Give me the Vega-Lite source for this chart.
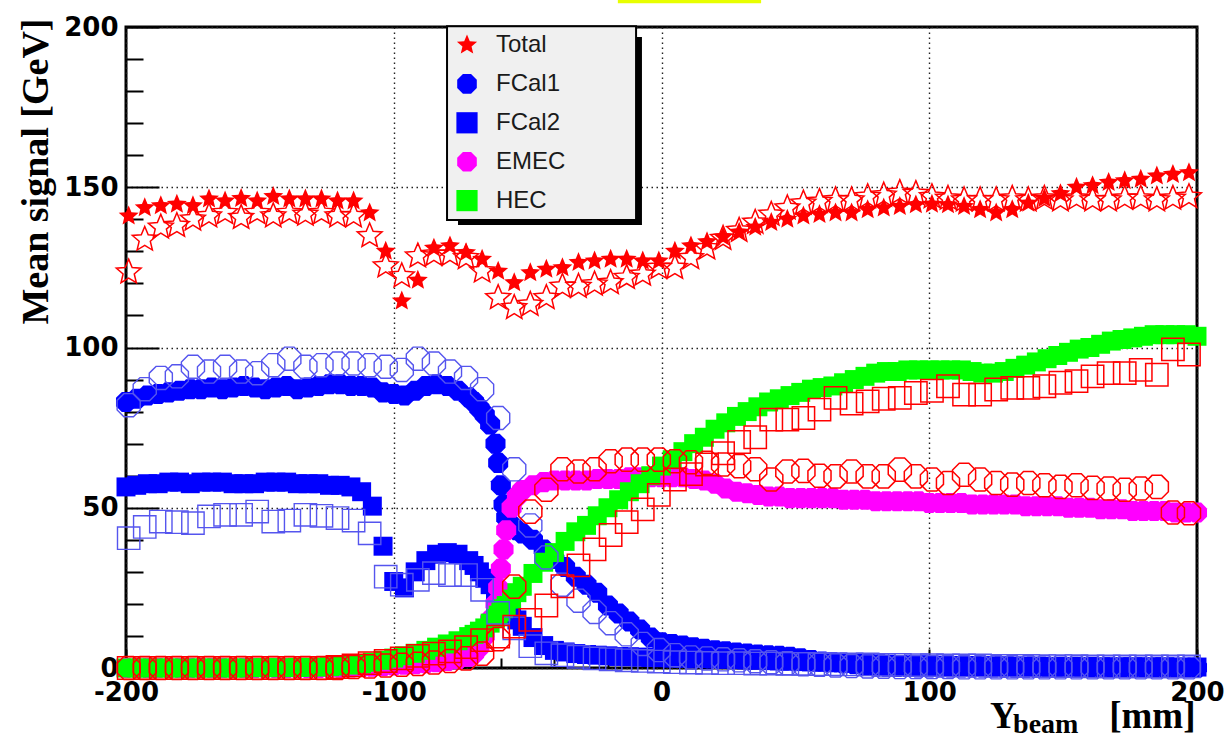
{
"$schema": "https://vega.github.io/schema/vega-lite/v6.json",
"width": 1071, "height": 641,
"autosize": {"type": "none"},
"padding": {"left": 126, "top": 27, "right": 30, "bottom": 69},
"background": "white",
"datasets": {
"filled": [
{"x":-200,"FCal1":83,"FCal2":56.5,"EMEC":0,"HEC":0},
{"x":-196,"FCal1":84,"FCal2":57,"EMEC":0,"HEC":0},
{"x":-192,"FCal1":85,"FCal2":57.5,"EMEC":0,"HEC":0},
{"x":-188,"FCal1":85.5,"FCal2":57.5,"EMEC":0,"HEC":0},
{"x":-184,"FCal1":86,"FCal2":58,"EMEC":0,"HEC":0},
{"x":-180,"FCal1":86.5,"FCal2":58,"EMEC":0,"HEC":0},
{"x":-176,"FCal1":87,"FCal2":57.5,"EMEC":0,"HEC":0},
{"x":-172,"FCal1":87,"FCal2":58,"EMEC":0,"HEC":0},
{"x":-168,"FCal1":87.5,"FCal2":58,"EMEC":0,"HEC":0},
{"x":-164,"FCal1":87,"FCal2":58,"EMEC":0,"HEC":0},
{"x":-160,"FCal1":87.5,"FCal2":57.5,"EMEC":0,"HEC":0},
{"x":-156,"FCal1":88,"FCal2":57.5,"EMEC":0,"HEC":0},
{"x":-152,"FCal1":87.5,"FCal2":57.5,"EMEC":0,"HEC":0.1},
{"x":-148,"FCal1":87,"FCal2":58,"EMEC":0,"HEC":0.1},
{"x":-144,"FCal1":87.5,"FCal2":58,"EMEC":0,"HEC":0.1},
{"x":-140,"FCal1":88,"FCal2":58,"EMEC":0,"HEC":0.1},
{"x":-136,"FCal1":87,"FCal2":57.5,"EMEC":0,"HEC":0.2},
{"x":-132,"FCal1":87.5,"FCal2":57.5,"EMEC":0,"HEC":0.2},
{"x":-128,"FCal1":88,"FCal2":57.5,"EMEC":0,"HEC":0.3},
{"x":-124,"FCal1":88.5,"FCal2":57,"EMEC":0.1,"HEC":0.4},
{"x":-120,"FCal1":88.5,"FCal2":57,"EMEC":0.1,"HEC":0.6},
{"x":-116,"FCal1":88,"FCal2":56.5,"EMEC":0.2,"HEC":0.9},
{"x":-112,"FCal1":88,"FCal2":55,"EMEC":0.3,"HEC":1.3},
{"x":-108,"FCal1":87.5,"FCal2":50.5,"EMEC":0.4,"HEC":1.8},
{"x":-104,"FCal1":86,"FCal2":38,"EMEC":0.6,"HEC":2.4},
{"x":-100,"FCal1":85.5,"FCal2":27,"EMEC":0.8,"HEC":3.1},
{"x":-96,"FCal1":85,"FCal2":25,"EMEC":1,"HEC":3.8},
{"x":-92,"FCal1":86.5,"FCal2":30,"EMEC":1.2,"HEC":4.6},
{"x":-88,"FCal1":88,"FCal2":33.5,"EMEC":1.5,"HEC":5.5},
{"x":-84,"FCal1":88.5,"FCal2":35.5,"EMEC":1.8,"HEC":6.5},
{"x":-80,"FCal1":88,"FCal2":36,"EMEC":2.2,"HEC":7.5},
{"x":-76,"FCal1":86.5,"FCal2":35.5,"EMEC":2.7,"HEC":8.5},
{"x":-72,"FCal1":84.5,"FCal2":33.5,"EMEC":3.5,"HEC":9.8},
{"x":-70,"FCal1":83,"FCal2":32,"EMEC":4.5,"HEC":10.5},
{"x":-68,"FCal1":81,"FCal2":30,"EMEC":6.5,"HEC":11.5},
{"x":-66,"FCal1":79,"FCal2":28,"EMEC":10,"HEC":12.5},
{"x":-64,"FCal1":76,"FCal2":26,"EMEC":15,"HEC":14},
{"x":-62,"FCal1":70,"FCal2":23.5,"EMEC":20,"HEC":15.5},
{"x":-61,"FCal1":64,"FCal2":22.5,"EMEC":25,"HEC":16.5},
{"x":-60,"FCal1":57,"FCal2":21,"EMEC":31,"HEC":17.5},
{"x":-59,"FCal1":51,"FCal2":20,"EMEC":37,"HEC":18.5},
{"x":-58,"FCal1":47,"FCal2":19,"EMEC":43,"HEC":19.5},
{"x":-56,"FCal1":44.5,"FCal2":17,"EMEC":50,"HEC":21.5},
{"x":-54,"FCal1":43,"FCal2":15,"EMEC":53.5,"HEC":23.5},
{"x":-52,"FCal1":42,"FCal2":13,"EMEC":55.5,"HEC":25.5},
{"x":-48,"FCal1":40,"FCal2":9.5,"EMEC":57,"HEC":29.5},
{"x":-44,"FCal1":37,"FCal2":7,"EMEC":58,"HEC":33},
{"x":-40,"FCal1":34,"FCal2":5.5,"EMEC":58.5,"HEC":36},
{"x":-36,"FCal1":31.5,"FCal2":5,"EMEC":58.5,"HEC":39.5},
{"x":-32,"FCal1":28.5,"FCal2":4.5,"EMEC":58.5,"HEC":42.5},
{"x":-28,"FCal1":26,"FCal2":4.2,"EMEC":58.5,"HEC":44.5},
{"x":-24,"FCal1":23.5,"FCal2":4,"EMEC":59,"HEC":47.5},
{"x":-20,"FCal1":19.5,"FCal2":3.8,"EMEC":59,"HEC":50},
{"x":-16,"FCal1":17,"FCal2":3.6,"EMEC":59,"HEC":52.5},
{"x":-12,"FCal1":14.5,"FCal2":3.5,"EMEC":59.5,"HEC":55},
{"x":-8,"FCal1":12,"FCal2":3.4,"EMEC":59.5,"HEC":57.5},
{"x":-4,"FCal1":9.5,"FCal2":3.3,"EMEC":59.5,"HEC":60},
{"x":0,"FCal1":8,"FCal2":3.2,"EMEC":59.5,"HEC":63},
{"x":4,"FCal1":7.5,"FCal2":3.1,"EMEC":59.5,"HEC":65},
{"x":8,"FCal1":7,"FCal2":3,"EMEC":59.5,"HEC":67.5},
{"x":12,"FCal1":6.5,"FCal2":3,"EMEC":59,"HEC":70},
{"x":16,"FCal1":6,"FCal2":2.9,"EMEC":58.5,"HEC":72},
{"x":20,"FCal1":5.5,"FCal2":2.8,"EMEC":57.5,"HEC":74.5},
{"x":24,"FCal1":5.2,"FCal2":2.7,"EMEC":56,"HEC":76.5},
{"x":28,"FCal1":4.8,"FCal2":2.6,"EMEC":55,"HEC":78.5},
{"x":32,"FCal1":4.5,"FCal2":2.5,"EMEC":54.5,"HEC":80},
{"x":36,"FCal1":4.2,"FCal2":2.4,"EMEC":54,"HEC":81.5},
{"x":40,"FCal1":4,"FCal2":2.3,"EMEC":53.5,"HEC":83},
{"x":44,"FCal1":3.8,"FCal2":2.2,"EMEC":53.5,"HEC":84},
{"x":48,"FCal1":3.5,"FCal2":2.1,"EMEC":53,"HEC":85},
{"x":52,"FCal1":3,"FCal2":2,"EMEC":53,"HEC":86},
{"x":56,"FCal1":2.5,"FCal2":1.9,"EMEC":53,"HEC":87},
{"x":60,"FCal1":2,"FCal2":1.8,"EMEC":53,"HEC":87.5},
{"x":64,"FCal1":1.8,"FCal2":1.7,"EMEC":53,"HEC":88},
{"x":68,"FCal1":1.5,"FCal2":1.6,"EMEC":52.5,"HEC":89},
{"x":72,"FCal1":1.2,"FCal2":1.5,"EMEC":52.5,"HEC":90},
{"x":76,"FCal1":0.8,"FCal2":1.4,"EMEC":52.5,"HEC":91},
{"x":80,"FCal1":0.5,"FCal2":1.3,"EMEC":52,"HEC":92},
{"x":84,"FCal1":0.4,"FCal2":1.2,"EMEC":52,"HEC":92.5},
{"x":88,"FCal1":0.3,"FCal2":1.1,"EMEC":52,"HEC":92.5},
{"x":92,"FCal1":0.3,"FCal2":1,"EMEC":52,"HEC":93},
{"x":96,"FCal1":0.2,"FCal2":1,"EMEC":52,"HEC":93},
{"x":100,"FCal1":0.2,"FCal2":0.9,"EMEC":51.5,"HEC":93},
{"x":104,"FCal1":0.2,"FCal2":0.9,"EMEC":51.5,"HEC":93},
{"x":108,"FCal1":0.2,"FCal2":0.8,"EMEC":51.5,"HEC":93},
{"x":112,"FCal1":0.2,"FCal2":0.8,"EMEC":51.5,"HEC":93},
{"x":116,"FCal1":0.2,"FCal2":0.8,"EMEC":51,"HEC":92.5},
{"x":120,"FCal1":0.2,"FCal2":0.7,"EMEC":51,"HEC":92},
{"x":124,"FCal1":0.2,"FCal2":0.7,"EMEC":51,"HEC":92},
{"x":128,"FCal1":0.2,"FCal2":0.7,"EMEC":51,"HEC":92.5},
{"x":132,"FCal1":0.1,"FCal2":0.6,"EMEC":51,"HEC":93.5},
{"x":136,"FCal1":0.1,"FCal2":0.6,"EMEC":50.5,"HEC":94.5},
{"x":140,"FCal1":0.1,"FCal2":0.6,"EMEC":50.5,"HEC":95.5},
{"x":144,"FCal1":0.1,"FCal2":0.5,"EMEC":50.5,"HEC":96.5},
{"x":148,"FCal1":0.1,"FCal2":0.5,"EMEC":50.5,"HEC":97.5},
{"x":152,"FCal1":0.1,"FCal2":0.5,"EMEC":50,"HEC":98.5},
{"x":156,"FCal1":0.1,"FCal2":0.5,"EMEC":50,"HEC":99.5},
{"x":160,"FCal1":0.1,"FCal2":0.5,"EMEC":50,"HEC":100},
{"x":164,"FCal1":0.1,"FCal2":0.4,"EMEC":49.5,"HEC":101},
{"x":168,"FCal1":0.1,"FCal2":0.4,"EMEC":49.5,"HEC":102},
{"x":172,"FCal1":0.1,"FCal2":0.4,"EMEC":49.5,"HEC":102.5},
{"x":176,"FCal1":0.1,"FCal2":0.4,"EMEC":49,"HEC":103},
{"x":180,"FCal1":0.1,"FCal2":0.4,"EMEC":49,"HEC":103.5},
{"x":184,"FCal1":0.1,"FCal2":0.4,"EMEC":49,"HEC":104},
{"x":188,"FCal1":0.1,"FCal2":0.4,"EMEC":49,"HEC":104},
{"x":192,"FCal1":0.1,"FCal2":0.3,"EMEC":48.5,"HEC":104},
{"x":196,"FCal1":0.1,"FCal2":0.3,"EMEC":48.5,"HEC":104},
{"x":200,"FCal1":0.1,"FCal2":0.3,"EMEC":48.5,"HEC":103.5}
],
"grid": [
{"x":-199,"Total_filled":141,"Total":123.5,"FCal1":82,"FCal2":40.5,"EMEC":0,"HEC":0},
{"x":-193,"Total_filled":143.6,"Total":133.7,"FCal1":87,"FCal2":44,"EMEC":0,"HEC":0},
{"x":-187,"Total_filled":144.2,"Total":137.5,"FCal1":90.5,"FCal2":45.7,"EMEC":0,"HEC":0},
{"x":-181,"Total_filled":144.7,"Total":138,"FCal1":91,"FCal2":45.5,"EMEC":0,"HEC":0},
{"x":-175,"Total_filled":144.2,"Total":140,"FCal1":94,"FCal2":45.2,"EMEC":0,"HEC":0},
{"x":-169,"Total_filled":146.3,"Total":141,"FCal1":92.5,"FCal2":47.3,"EMEC":0,"HEC":0},
{"x":-163,"Total_filled":145.7,"Total":142,"FCal1":94,"FCal2":47.8,"EMEC":0,"HEC":0},
{"x":-157,"Total_filled":146.5,"Total":140.5,"FCal1":92.5,"FCal2":47.8,"EMEC":0,"HEC":0},
{"x":-151,"Total_filled":145.7,"Total":142,"FCal1":92,"FCal2":48.8,"EMEC":0,"HEC":0},
{"x":-145,"Total_filled":147.1,"Total":141,"FCal1":94.5,"FCal2":45.7,"EMEC":0,"HEC":0},
{"x":-139,"Total_filled":146.3,"Total":142,"FCal1":96.5,"FCal2":46,"EMEC":0,"HEC":0},
{"x":-133,"Total_filled":146.3,"Total":141.5,"FCal1":94,"FCal2":47.8,"EMEC":0,"HEC":0},
{"x":-127,"Total_filled":146.3,"Total":142,"FCal1":94.5,"FCal2":47.5,"EMEC":0,"HEC":0},
{"x":-121,"Total_filled":145.7,"Total":141,"FCal1":95,"FCal2":46.8,"EMEC":0,"HEC":0.3},
{"x":-115,"Total_filled":145.7,"Total":141,"FCal1":95,"FCal2":46,"EMEC":0.3,"HEC":0.8},
{"x":-109,"Total_filled":142,"Total":134.8,"FCal1":94.5,"FCal2":42,"EMEC":0.5,"HEC":1.5},
{"x":-103,"Total_filled":130,"Total":125.4,"FCal1":94,"FCal2":28.5,"EMEC":0.8,"HEC":2.2},
{"x":-97,"Total_filled":114.5,"Total":122.3,"FCal1":93,"FCal2":26,"EMEC":1,"HEC":3},
{"x":-91,"Total_filled":121,"Total":128.5,"FCal1":96.5,"FCal2":27.5,"EMEC":1.3,"HEC":3.8},
{"x":-85,"Total_filled":131,"Total":129,"FCal1":95,"FCal2":29.6,"EMEC":1.7,"HEC":4.5},
{"x":-79,"Total_filled":131.7,"Total":129,"FCal1":92.5,"FCal2":29,"EMEC":2.2,"HEC":5.2},
{"x":-73,"Total_filled":129.6,"Total":128,"FCal1":90.5,"FCal2":29,"EMEC":3,"HEC":6.5},
{"x":-67,"Total_filled":127.5,"Total":123.8,"FCal1":87,"FCal2":24.4,"EMEC":4.5,"HEC":8.7},
{"x":-61,"Total_filled":123.8,"Total":115.5,"FCal1":78,"FCal2":17.2,"EMEC":9,"HEC":9.8},
{"x":-55,"Total_filled":120.2,"Total":112.4,"FCal1":62,"FCal2":12.4,"EMEC":25.4,"HEC":12.9},
{"x":-49,"Total_filled":123.3,"Total":113.4,"FCal1":44.5,"FCal2":6.8,"EMEC":48.8,"HEC":15},
{"x":-43,"Total_filled":124.4,"Total":115.5,"FCal1":34.5,"FCal2":4.6,"EMEC":55.6,"HEC":19.5},
{"x":-37,"Total_filled":124.9,"Total":119,"FCal1":26,"FCal2":4,"EMEC":62,"HEC":25.5},
{"x":-31,"Total_filled":126.5,"Total":119,"FCal1":21,"FCal2":3.5,"EMEC":61.3,"HEC":32},
{"x":-25,"Total_filled":127,"Total":119.7,"FCal1":17.5,"FCal2":3,"EMEC":62,"HEC":37},
{"x":-19,"Total_filled":127.5,"Total":120.2,"FCal1":14,"FCal2":2.7,"EMEC":64.5,"HEC":41.5},
{"x":-13,"Total_filled":127.5,"Total":121.8,"FCal1":10.5,"FCal2":2.4,"EMEC":65,"HEC":45.5},
{"x":-7,"Total_filled":127,"Total":122.8,"FCal1":7.5,"FCal2":2.2,"EMEC":65,"HEC":49.5},
{"x":-1,"Total_filled":127,"Total":124.9,"FCal1":5.6,"FCal2":2,"EMEC":65,"HEC":54},
{"x":5,"Total_filled":130,"Total":124.9,"FCal1":4,"FCal2":1.8,"EMEC":64.5,"HEC":58.8},
{"x":11,"Total_filled":131.7,"Total":128,"FCal1":3.3,"FCal2":1.7,"EMEC":64.2,"HEC":60.5},
{"x":17,"Total_filled":133,"Total":131,"FCal1":3,"FCal2":1.6,"EMEC":64,"HEC":63.5},
{"x":23,"Total_filled":134.5,"Total":134,"FCal1":2.7,"FCal2":1.5,"EMEC":63.5,"HEC":67},
{"x":29,"Total_filled":136,"Total":136.5,"FCal1":2.4,"FCal2":1.5,"EMEC":63,"HEC":70.5},
{"x":35,"Total_filled":137.5,"Total":139,"FCal1":2.1,"FCal2":1.4,"EMEC":62,"HEC":72},
{"x":41,"Total_filled":139,"Total":141.5,"FCal1":1.8,"FCal2":1.4,"EMEC":58.8,"HEC":77.5},
{"x":47,"Total_filled":140,"Total":143.5,"FCal1":1.5,"FCal2":1.3,"EMEC":61.3,"HEC":77.5},
{"x":53,"Total_filled":141,"Total":145,"FCal1":1.2,"FCal2":1.3,"EMEC":61.5,"HEC":78},
{"x":59,"Total_filled":141.5,"Total":145.5,"FCal1":1,"FCal2":1.2,"EMEC":60,"HEC":80.6},
{"x":65,"Total_filled":142,"Total":146,"FCal1":0.8,"FCal2":1.2,"EMEC":59.8,"HEC":84.3},
{"x":71,"Total_filled":142,"Total":146,"FCal1":0.6,"FCal2":1.1,"EMEC":61.3,"HEC":82.5},
{"x":77,"Total_filled":143,"Total":147,"FCal1":0.5,"FCal2":1.1,"EMEC":59.8,"HEC":83.2},
{"x":83,"Total_filled":143.5,"Total":147.5,"FCal1":0.4,"FCal2":1,"EMEC":59.8,"HEC":84},
{"x":89,"Total_filled":144,"Total":148.3,"FCal1":0.3,"FCal2":1,"EMEC":61.9,"HEC":84.3},
{"x":95,"Total_filled":144.5,"Total":148,"FCal1":0.3,"FCal2":0.9,"EMEC":59.8,"HEC":85.8},
{"x":101,"Total_filled":144.7,"Total":147,"FCal1":0.3,"FCal2":0.9,"EMEC":58.8,"HEC":86.5},
{"x":107,"Total_filled":144.5,"Total":146.5,"FCal1":0.3,"FCal2":0.8,"EMEC":57.7,"HEC":87.9},
{"x":113,"Total_filled":144,"Total":146,"FCal1":0.2,"FCal2":0.8,"EMEC":60.3,"HEC":85.3},
{"x":119,"Total_filled":143,"Total":146,"FCal1":0.2,"FCal2":0.8,"EMEC":58.8,"HEC":85.3},
{"x":125,"Total_filled":142,"Total":146,"FCal1":0.2,"FCal2":0.7,"EMEC":57.7,"HEC":86.9},
{"x":131,"Total_filled":143,"Total":146.5,"FCal1":0.2,"FCal2":0.7,"EMEC":57.2,"HEC":87.4},
{"x":137,"Total_filled":145,"Total":146,"FCal1":0.2,"FCal2":0.7,"EMEC":57.7,"HEC":87.4},
{"x":143,"Total_filled":146.5,"Total":146.5,"FCal1":0.2,"FCal2":0.6,"EMEC":57,"HEC":87.9},
{"x":149,"Total_filled":148,"Total":146,"FCal1":0.2,"FCal2":0.6,"EMEC":56.5,"HEC":89},
{"x":155,"Total_filled":150,"Total":146.5,"FCal1":0.2,"FCal2":0.6,"EMEC":57,"HEC":89.5},
{"x":161,"Total_filled":150.5,"Total":146,"FCal1":0.2,"FCal2":0.5,"EMEC":56.2,"HEC":91},
{"x":167,"Total_filled":151.5,"Total":146,"FCal1":0.2,"FCal2":0.5,"EMEC":56,"HEC":92},
{"x":173,"Total_filled":152,"Total":146.5,"FCal1":0.2,"FCal2":0.5,"EMEC":55.6,"HEC":92},
{"x":179,"Total_filled":152.5,"Total":146.5,"FCal1":0.2,"FCal2":0.5,"EMEC":56,"HEC":93},
{"x":185,"Total_filled":153.5,"Total":146,"FCal1":0.2,"FCal2":0.5,"EMEC":56.5,"HEC":91.5},
{"x":191,"Total_filled":154,"Total":146.5,"FCal1":0.2,"FCal2":0.5,"EMEC":48.5,"HEC":99.4},
{"x":197,"Total_filled":154.5,"Total":147,"FCal1":0.2,"FCal2":0.5,"EMEC":48.3,"HEC":97.8}
]
},
"layer": [
{"data": {"values": [{}]},
 "mark": {"type": "rect", "color": "black"},
 "encoding": {
  "x": {"datum": -76, "type": "quantitative", "axis": null},
  "x2": {"datum": -7.3},
  "y": {"datum": 196.9, "type": "quantitative", "axis": null},
  "y2": {"datum": 138.2}}},
{"data": {"values": [{}]},
 "mark": {"type": "rect", "fill": "#f0f0f0", "stroke": "black", "strokeWidth": 2},
 "encoding": {
  "x": {"datum": -80.1, "type": "quantitative", "axis": null},
  "x2": {"datum": -9.5},
  "y": {"datum": 200.2, "type": "quantitative", "axis": null},
  "y2": {"datum": 139.8}}},
{"data": {"values": [{}]},
 "mark": {"type": "rect", "color": "#e8ff00"},
 "encoding": {
  "x": {"datum": -16.3, "type": "quantitative", "axis": null},
  "x2": {"datum": 37.2},
  "y": {"datum": 207.4, "type": "quantitative", "axis": null},
  "y2": {"datum": 210}}},
{"data": {"name": "grid"},
 "mark": {"type": "point", "filled": true, "size": 440, "opacity": 1, "strokeWidth": 0},
 "encoding": {
  "x": {"field": "x", "type": "quantitative",
   "scale": {"domain": [-200, 200], "nice": false, "zero": false},
   "axis": {"orient": "bottom", "values": [-200, -100, 0, 100, 200], "labelExpr": "'' + datum.value",
    "grid": true, "gridColor": "#222222", "gridDash": [1.5, 3.5], "gridWidth": 1.4, "gridOpacity": 1,
    "domain": false, "ticks": true, "tickSize": -19, "tickWidth": 2, "tickColor": "black",
    "labelFont": "DejaVu Sans", "labelFontWeight": "bold", "labelFontSize": 26, "labelColor": "black",
    "labelPadding": 30, "labelBaseline": "top", "labelFlush": false, "labelOverlap": false,
    "title": "Y\u00a0\u00a0\u00a0\u00a0\u00a0\u00a0\u00a0\u00a0\u00a0\u00a0[mm]",
    "titleFont": "Liberation Serif", "titleFontWeight": "bold", "titleFontSize": 37, "titleColor": "black",
    "titleAlign": "right", "titleBaseline": "alphabetic", "titleX": 1069, "titleY": 59, "titleAngle": 0}},
  "y": {"field": "Total_filled", "type": "quantitative",
   "scale": {"domain": [0, 200], "nice": false},
   "axis": {"orient": "left", "values": [0, 50, 100, 150, 200],
    "grid": true, "gridColor": "#222222", "gridDash": [1.5, 3.5], "gridWidth": 1.4, "gridOpacity": 1,
    "domain": false, "ticks": true, "tickSize": -33, "tickWidth": 2, "tickColor": "black",
    "labelFont": "DejaVu Sans", "labelFontWeight": "bold", "labelFontSize": 26, "labelColor": "black",
    "labelPadding": 41, "labelAlign": "right", "labelBaseline": "middle", "labelFlush": false, "labelOverlap": false,
    "title": "Mean signal [GeV]",
    "titleFont": "Liberation Serif", "titleFontWeight": "bold", "titleFontSize": 38, "titleColor": "black",
    "titleAngle": 270, "titleAlign": "right", "titleBaseline": "alphabetic", "titleX": -79, "titleY": -9}},
  "color": {"datum": "Total", "type": "nominal",
   "scale": {"domain": ["Total", "FCal1", "FCal2", "EMEC", "HEC"], "range": ["#ff0000", "#0000ff", "#0000ff", "#ff00ff", "#00ff00"]},
   "legend": {"orient": "none", "legendX": 323, "legendY": 0, "title": null, "padding": 6,
    "symbolSize": 450, "symbolStrokeWidth": 0, "symbolOpacity": 1,
    "labelFont": "Liberation Sans", "labelFontSize": 24, "labelColor": "#1a1a1a", "labelOffset": 17, "rowPadding": 14.9,
    "labelLimit": 300}},
  "shape": {"datum": "Total", "type": "nominal",
   "scale": {"domain": ["Total", "FCal1", "FCal2", "EMEC", "HEC"],
    "range": ["M0,-1L0.265,-0.364L0.951,-0.309L0.428,0.139L0.588,0.809L0,0.45L-0.588,0.809L-0.428,0.139L-0.951,-0.309L-0.265,-0.364Z",
     "M-0.383,-0.924L0.383,-0.924L0.924,-0.383L0.924,0.383L0.383,0.924L-0.383,0.924L-0.924,0.383L-0.924,-0.383Z",
     "square",
     "M-0.383,-0.924L0.383,-0.924L0.924,-0.383L0.924,0.383L0.383,0.924L-0.383,0.924L-0.924,0.383L-0.924,-0.383Z",
     "square"]},
   "legend": {"orient": "none", "legendX": 323, "legendY": 0, "title": null, "padding": 6,
    "symbolSize": 450, "symbolStrokeWidth": 0, "symbolOpacity": 1,
    "labelFont": "Liberation Sans", "labelFontSize": 24, "labelColor": "#1a1a1a", "labelOffset": 17, "rowPadding": 14.9,
    "labelLimit": 300}}}},
{"data": {"name": "filled"},
 "mark": {"type": "point", "filled": true, "size": 470, "opacity": 1, "strokeWidth": 0},
 "encoding": {
  "x": {"field": "x", "type": "quantitative", "axis": null},
  "y": {"field": "FCal1", "type": "quantitative", "axis": null},
  "color": {"datum": "FCal1", "type": "nominal"},
  "shape": {"datum": "FCal1", "type": "nominal"}}},
{"data": {"name": "filled"},
 "mark": {"type": "point", "filled": true, "size": 360, "opacity": 1, "strokeWidth": 0},
 "encoding": {
  "x": {"field": "x", "type": "quantitative", "axis": null},
  "y": {"field": "FCal2", "type": "quantitative", "axis": null},
  "color": {"datum": "FCal2", "type": "nominal"},
  "shape": {"datum": "FCal2", "type": "nominal"}}},
{"data": {"name": "filled"},
 "mark": {"type": "point", "filled": true, "size": 470, "opacity": 1, "strokeWidth": 0},
 "encoding": {
  "x": {"field": "x", "type": "quantitative", "axis": null},
  "y": {"field": "EMEC", "type": "quantitative", "axis": null},
  "color": {"datum": "EMEC", "type": "nominal"},
  "shape": {"datum": "EMEC", "type": "nominal"}}},
{"data": {"name": "filled"},
 "mark": {"type": "point", "filled": true, "size": 360, "opacity": 1, "strokeWidth": 0},
 "encoding": {
  "x": {"field": "x", "type": "quantitative", "axis": null},
  "y": {"field": "HEC", "type": "quantitative", "axis": null},
  "color": {"datum": "HEC", "type": "nominal"},
  "shape": {"datum": "HEC", "type": "nominal"}}},
{"data": {"name": "grid"},
 "mark": {"type": "point", "filled": false, "size": 680, "opacity": 1, "strokeWidth": 1.5, "color": "#ff0000",
  "shape": "M0,-1L0.265,-0.364L0.951,-0.309L0.428,0.139L0.588,0.809L0,0.45L-0.588,0.809L-0.428,0.139L-0.951,-0.309L-0.265,-0.364Z"},
 "encoding": {
  "x": {"field": "x", "type": "quantitative",
   "axis": {"orient": "bottom", "values": [-180, -160, -140, -120, -80, -60, -40, -20, 20, 40, 60, 80, 120, 140, 160, 180],
    "labels": false, "domain": false, "grid": false, "ticks": true, "tickSize": -10, "tickWidth": 2, "tickColor": "black", "title": null}},
  "y": {"field": "Total", "type": "quantitative",
   "axis": {"orient": "left", "values": [10, 20, 30, 40, 60, 70, 80, 90, 110, 120, 130, 140, 160, 170, 180, 190],
    "labels": false, "domain": false, "grid": false, "ticks": true, "tickSize": -17, "tickWidth": 2, "tickColor": "black", "title": null}}}},
{"data": {"name": "grid"},
 "mark": {"type": "point", "filled": false, "size": 625, "opacity": 1, "strokeWidth": 1.4, "color": "#5555ee",
  "shape": "M-0.383,-0.924L0.383,-0.924L0.924,-0.383L0.924,0.383L0.383,0.924L-0.383,0.924L-0.924,0.383L-0.924,-0.383Z"},
 "encoding": {
  "x": {"field": "x", "type": "quantitative", "axis": null},
  "y": {"field": "FCal1", "type": "quantitative", "axis": null}}},
{"data": {"name": "grid"},
 "mark": {"type": "point", "filled": false, "size": 500, "opacity": 1, "strokeWidth": 1.4, "color": "#5555ee", "shape": "square"},
 "encoding": {
  "x": {"field": "x", "type": "quantitative", "axis": null},
  "y": {"field": "FCal2", "type": "quantitative", "axis": null}}},
{"data": {"name": "grid"},
 "mark": {"type": "point", "filled": false, "size": 625, "opacity": 1, "strokeWidth": 1.5, "color": "#ff0000",
  "shape": "M-0.383,-0.924L0.383,-0.924L0.924,-0.383L0.924,0.383L0.383,0.924L-0.383,0.924L-0.924,0.383L-0.924,-0.383Z"},
 "encoding": {
  "x": {"field": "x", "type": "quantitative", "axis": null},
  "y": {"field": "EMEC", "type": "quantitative", "axis": null}}},
{"data": {"name": "grid"},
 "mark": {"type": "point", "filled": false, "size": 500, "opacity": 1, "strokeWidth": 1.5, "color": "#ff0000", "shape": "square"},
 "encoding": {
  "x": {"field": "x", "type": "quantitative", "axis": null},
  "y": {"field": "HEC", "type": "quantitative", "axis": null}}},
{"data": {"values": [{}]},
 "mark": {"type": "text", "text": "beam", "font": "Liberation Serif", "fontWeight": "bold", "fontSize": 28,
  "align": "left", "baseline": "alphabetic", "color": "black"},
 "encoding": {
  "x": {"datum": 131.3, "type": "quantitative", "axis": null},
  "y": {"datum": -20.3, "type": "quantitative", "axis": null}}}
],
"resolve": {"axis": {"x": "independent", "y": "independent"}},
"config": {
 "view": {"stroke": "black", "strokeWidth": 3}
}
}
